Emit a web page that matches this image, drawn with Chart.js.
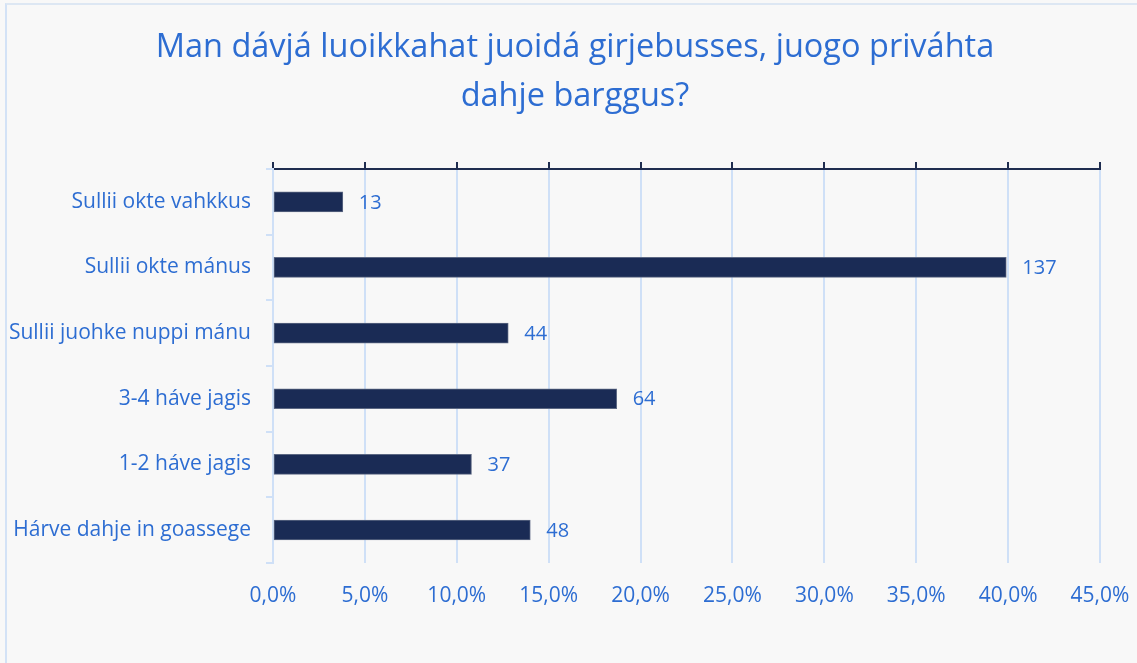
<!DOCTYPE html>
<html>
<head>
<meta charset="utf-8">
<script src="https://cdn.jsdelivr.net/npm/chart.js@4/dist/chart.umd.min.js"></script>
<style>
  html, body { margin: 0; padding: 0; background: #f8f8f8; overflow: hidden; }
  #wrap { position: relative; width: 1137px; height: 663px; }
  #frame {
    position: absolute; left: 5px; top: 3px; width: 1200px; height: 700px;
    border-left: 2px solid #d3e2f6; border-top: 2px solid #dde7f3; pointer-events: none;
  }
  canvas { position: absolute; left: 0; top: 0; }
</style>
</head>
<body>
<div id="wrap">
  <canvas id="chart" width="1137" height="663"></canvas>
  <div id="frame"></div>
</div>
<script>
const categories = [
    'Sullii okte vahkkus',
    'Sullii okte mánus',
    'Sullii juohke nuppi mánu',
    '3-4 háve jagis',
    '1-2 háve jagis',
    'Hárve dahje in goassege'
];
const shares = [3.8, 39.9, 12.8, 18.7, 10.8, 14.0];
const counts = [13, 137, 44, 64, 37, 48];
const titleLines = ['Man dávjá luoikkahat juoidá girjebusses, juogo priváhta', 'dahje barggus?'];
const axisMax = 45;
const axisStep = 5;

const blue = '#2d6dd2';
const navy = '#1a2b55';
const gridBlue = '#cfe0f7';
const fontFamily = "'Open Sans', 'Noto Sans', sans-serif";

// title, centred a bit right of the canvas middle like the original
const titlePlugin = {
    id: 'titlePlugin',
    afterDraw(chart) {
        const ctx = chart.ctx;
        ctx.save();
        ctx.font = '32.5px ' + fontFamily;
        ctx.fillStyle = blue;
        ctx.textAlign = 'center';
        ctx.textBaseline = 'middle';
        titleLines.forEach((t, i) => ctx.fillText(t, 575, 48 + i * 49));
        ctx.restore();
    }
};

// count labels to the right of each bar
const countLabels = {
    id: 'countLabels',
    afterDatasetsDraw(chart) {
        const ctx = chart.ctx;
        const meta = chart.getDatasetMeta(0);
        ctx.save();
        ctx.font = '20px ' + fontFamily;
        ctx.fillStyle = blue;
        ctx.textAlign = 'left';
        ctx.textBaseline = 'middle';
        meta.data.forEach((bar, i) => {
            ctx.fillText(String(counts[i]), bar.x + 16, bar.y + 1);
        });
        ctx.restore();
    }
};

const noSidePad = s => { s.paddingLeft = 0; s.paddingRight = 0; };

new Chart(document.getElementById('chart'), {
    type: 'bar',
    data: {
        labels: categories,
        datasets: [{
            data: shares,
            backgroundColor: navy,
            borderColor: '#5c6883',
            borderWidth: 1,
            borderSkipped: false,
            barThickness: 20,
            xAxisID: 'x',
            yAxisID: 'y'
        }]
    },
    options: {
        indexAxis: 'y',
        responsive: false,
        animation: false,
        layout: { padding: { left: 0, right: 37, top: 161, bottom: 33 } },
        plugins: {
            legend: { display: false },
            tooltip: { enabled: false },
            title: { display: false }
        },
        scales: {
            x: {
                position: 'bottom',
                min: 0,
                max: axisMax,
                grid: { color: gridBlue, lineWidth: 2, drawTicks: false },
                border: { display: false },
                ticks: {
                    stepSize: axisStep,
                    padding: 21,
                    color: blue,
                    font: { family: fontFamily, size: 21 },
                    callback: v => v.toFixed(1).replace('.', ',') + '%'
                },
                afterFit: noSidePad
            },
            x2: {
                position: 'top',
                min: 0,
                max: axisMax,
                grid: { drawOnChartArea: false, color: '#1f2d50', lineWidth: 2, tickLength: 7 },
                border: { display: true, color: '#1f2d50', width: 2 },
                ticks: { stepSize: axisStep, display: false },
                afterFit: s => { s.height = 8; noSidePad(s); }
            },
            y: {
                grid: { offset: true, drawOnChartArea: false, color: gridBlue, lineWidth: 2, tickLength: 7 },
                border: { display: true, color: gridBlue, width: 2 },
                ticks: {
                    padding: 15,
                    color: blue,
                    font: { family: fontFamily, size: 21 }
                },
                afterFit: s => { s.width = 273; }
            }
        }
    },
    plugins: [countLabels, titlePlugin]
});
</script>
</body>
</html>
